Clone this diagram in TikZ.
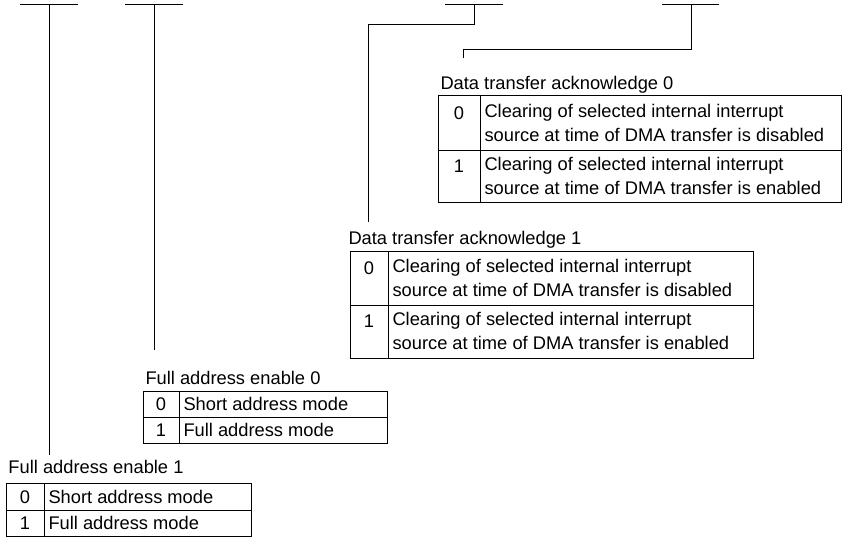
\documentclass[tikz,border=0pt]{standalone}
\usepackage{fontspec}
\setmainfont{Liberation Sans}
\begin{document}
\begin{tikzpicture}[x=1pt,y=-1pt,
  line width=1pt,
  lbl/.style={anchor=west,inner sep=0pt,font=\fontsize{18.3}{22}\selectfont},
  num/.style={anchor=center,inner sep=0pt,font=\fontsize{18.3}{22}\selectfont},
  wire/.style={draw=black,line width=1pt}]
\useasboundingbox (0,0) rectangle (842,537);

% top bars
\coordinate (b1l) at (20,5);  \coordinate (b1r) at (78,5);  \coordinate (b1m) at (49,5);
\coordinate (b2l) at (125,5); \coordinate (b2r) at (183,5); \coordinate (b2m) at (154,5);
\coordinate (b3l) at (445,5); \coordinate (b3r) at (503,5); \coordinate (b3m) at (474,5);
\coordinate (b4l) at (662,5); \coordinate (b4r) at (719,5); \coordinate (b4m) at (691,5);
\draw[wire] (b1l) -- (b1r);
\draw[wire] (b2l) -- (b2r);
\draw[wire] (b3l) -- (b3r);
\draw[wire] (b4l) -- (b4r);

% end points of connectors
\coordinate (e1) at (49,455);
\coordinate (e2) at (154,350);
\coordinate (e3) at (368,222);
\coordinate (e4) at (463,58);

\draw[wire] (b1m) -- (e1);
\draw[wire] (b2m) -- (e2);
\draw[wire] (b3m) -- (474,25) -- (368,25) -- (e3);
\draw[wire] (b4m) -- (691,50) -- (463,50) -- (e4);

% ---- Data transfer acknowledge 0
\node[lbl] (dta0) at (440,85) {Data transfer acknowledge 0};
\draw (438,96) rectangle (841,203);
\draw (438,151) -- (841,151);
\draw (480,96) -- (480,203);
\node[num] (dta0n0) at (459,113) {0};
\node[lbl] (dta0a) at (484,113) {Clearing of selected internal interrupt};
\node[lbl] (dta0b) at (484,135) {source at time of DMA transfer is disabled};
\node[num] (dta0n1) at (459,166) {1};
\node[lbl] (dta0c) at (484,166) {Clearing of selected internal interrupt};
\node[lbl] (dta0d) at (484,188) {source at time of DMA transfer is enabled};

% ---- Data transfer acknowledge 1
\node[lbl] (dta1) at (348,240) {Data transfer acknowledge 1};
\draw (350,251) rectangle (753,358);
\draw (350,305) -- (753,305);
\draw (388,251) -- (388,358);
\node[num] (dta1n0) at (369,268) {0};
\node[lbl] (dta1a) at (392,268) {Clearing of selected internal interrupt};
\node[lbl] (dta1b) at (392,290) {source at time of DMA transfer is disabled};
\node[num] (dta1n1) at (369,321) {1};
\node[lbl] (dta1c) at (392,321) {Clearing of selected internal interrupt};
\node[lbl] (dta1d) at (392,343) {source at time of DMA transfer is enabled};

% ---- Full address enable 0
\node[lbl] (fae0) at (145,378) {Full address enable 0};
\draw (143,391) rectangle (387,443);
\draw (143,417) -- (387,417);
\draw (179,391) -- (179,443);
\node[num] (fae0n0) at (161,404) {0};
\node[lbl] (fae0a) at (183,404) {Short address mode};
\node[num] (fae0n1) at (161,430) {1};
\node[lbl] (fae0b) at (183,430) {Full address mode};

% ---- Full address enable 1
\node[lbl] (fae1) at (8,467) {Full address enable 1};
\draw (6,483) rectangle (251,536);
\draw (6,510) -- (251,510);
\draw (44,483) -- (44,536);
\node[num] (fae1n0) at (25,497) {0};
\node[lbl] (fae1a) at (48,497) {Short address mode};
\node[num] (fae1n1) at (25,523) {1};
\node[lbl] (fae1b) at (48,523) {Full address mode};
\end{tikzpicture}
\end{document}
